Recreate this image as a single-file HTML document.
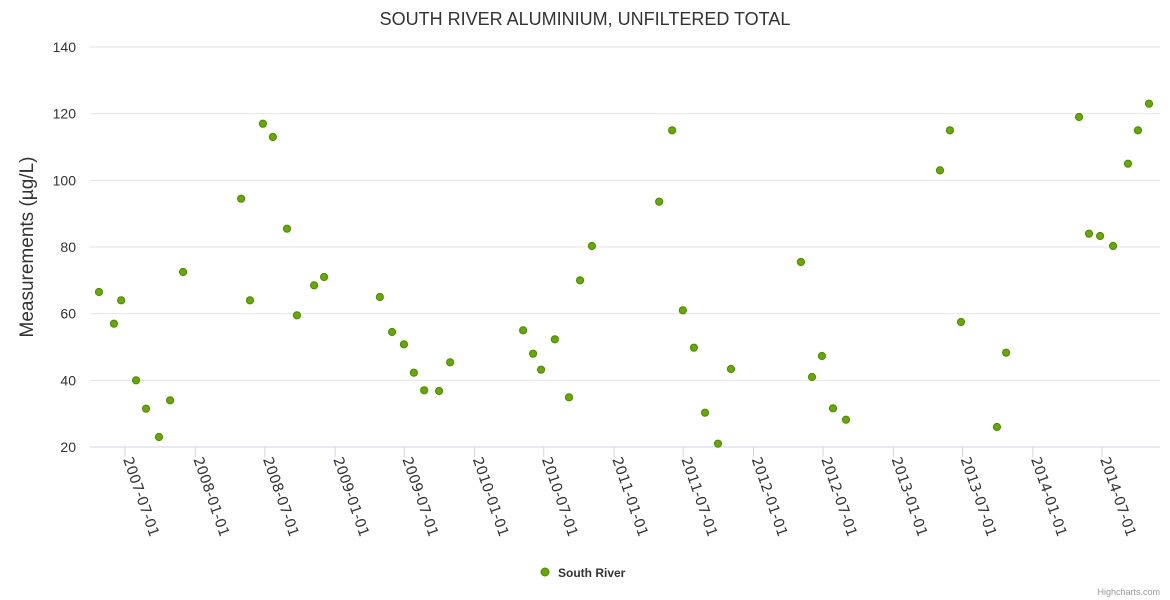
<!DOCTYPE html>
<html><head><meta charset="utf-8"><style>
body{margin:0;background:#fff;}
svg{display:block;font-family:"Liberation Sans",sans-serif;}
</style></head><body>
<svg id="c" width="1170" height="600">
<text x="585" y="25" text-anchor="middle" font-size="18" fill="#333">SOUTH RIVER ALUMINIUM, UNFILTERED TOTAL</text>
<text transform="translate(33,247) rotate(-90)" text-anchor="middle" font-size="19" fill="#333">Measurements (µg/L)</text>
<g id="grid"></g><g id="xaxis"></g><g id="pts"></g>
<g>
<circle cx="545" cy="572" r="4" fill="#66aa00" stroke="#4c8a00" stroke-width="1"/>
<text x="558" y="577" font-size="12" font-weight="bold" fill="#333">South River</text>
</g>
<text x="1160" y="595" text-anchor="end" font-size="9" fill="#999">Highcharts.com</text>
</svg>
<script>
const yTicks=[20,40,60,80,100,120,140];
const xTickLabels=["2007-07-01","2008-01-01","2008-07-01","2009-01-01","2009-07-01","2010-01-01","2010-07-01","2011-01-01","2011-07-01","2012-01-01","2012-07-01","2013-01-01","2013-07-01","2014-01-01","2014-07-01"];
// days since 2007-07-01
const dayOffsets=[-68,-29,-10,29,55,89,118,152,304,327,361,387,424,450,495,521,667,699,730,756,783,822,851,1042,1068,1089,1125,1162,1191,1222,1398,1432,1460,1489,1518,1552,1586,1769,1798,1824,1853,1887,2133,2159,2188,2282,2306,2497,2523,2552,2586,2625,2651,2680];
const values=[66.5,57,64,40,31.5,23,34,72.5,94.5,64,117,113,85.5,59.5,68.5,71,65,54.5,50.8,42.3,37,36.8,45.4,55,48,43.2,52.3,34.9,70,80.3,93.6,115,61,49.8,30.3,21,43.4,75.5,41,47.3,31.6,28.2,103,115,57.5,26,48.3,119,84,83.3,80.3,105,115,123];
const NS="http://www.w3.org/2000/svg";
const base=Date.UTC(2007,6,1), DAY=86400000;
const x0=125, pxPerDay=977/2557;
const xs=d=>x0+d*pxPerDay;
const xDate=s=>{const p=s.split('-');return xs((Date.UTC(+p[0],p[1]-1,+p[2])-base)/DAY);};
const ys=v=>447-(v-20)*400/120;
function mk(t,a,p){const e=document.createElementNS(NS,t);for(const k in a)e.setAttribute(k,a[k]);p.appendChild(e);return e;}
const g=document.getElementById('grid');
yTicks.forEach(v=>{
 const l=mk('line',{x1:90,x2:1160,y1:ys(v),y2:ys(v),stroke:v===20?'#ccd6eb':'#e6e6e6','stroke-width':1},g);
 
 
 const t=mk('text',{x:76,y:ys(v)+5,'text-anchor':'end','font-size':14,fill:'#333'},g);
 t.textContent=v;
 
 
});
const xa=document.getElementById('xaxis');
xTickLabels.forEach(s=>{
 const x=xDate(s);
 const l=mk('line',{x1:x,x2:x,y1:447,y2:457,stroke:'#ccd6eb'},xa);
 
 
 const t=mk('text',{transform:`translate(${x-2},${459}) rotate(71)`,'font-size':14.3,fill:'#333','font-family':'"DejaVu Sans",sans-serif'},xa);
 t.textContent=s;
 
 
});
const pg=document.getElementById('pts');
dayOffsets.forEach((d,i)=>{
 const c=mk('circle',{cx:xs(d),cy:ys(values[i]),r:3.6,fill:'#66aa00',stroke:'#4c8a00','stroke-width':1},pg);
 
 
});
</script>
</body></html>
